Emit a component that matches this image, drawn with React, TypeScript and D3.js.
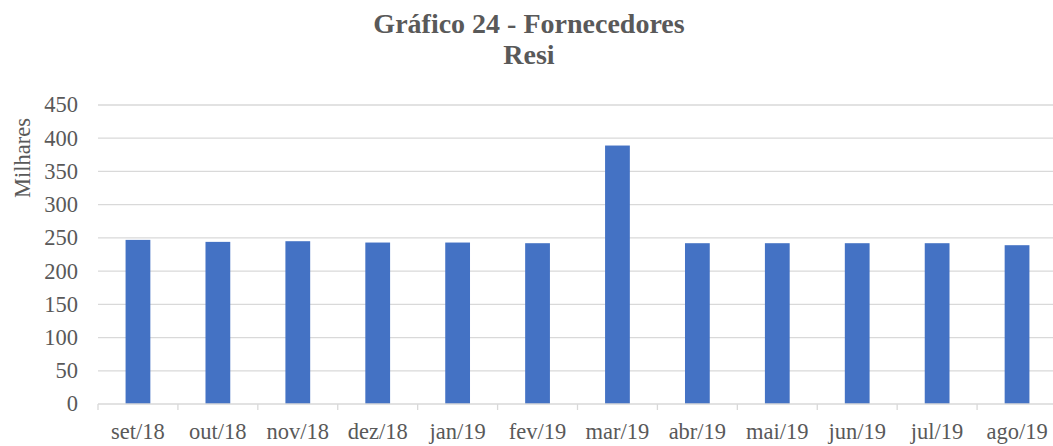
import * as d3 from "d3";
import React, { useRef, useEffect } from "react";

// months on the x axis
const months = [
  "set/18", "out/18", "nov/18", "dez/18", "jan/19", "fev/19",
  "mar/19", "abr/19", "mai/19", "jun/19", "jul/19", "ago/19",
];
// values in thousands (Milhares)
const values = [247, 244, 245, 243, 243, 242, 389, 242, 242, 242, 242, 239];
const yTicks = [0, 50, 100, 150, 200, 250, 300, 350, 400, 450];
const titleLines = ["Gráfico 24 - Fornecedores", "Resi"];

const FONT = "'Liberation Serif', 'Times New Roman', serif";

export default function App() {
  const svgRef = useRef<SVGSVGElement>(null);

  useEffect(() => {
    document.body.style.margin = "0";
    const svg = d3.select(svgRef.current);
    svg.selectAll("*").remove();

    const width = 1053;
    const height = 446;
    const margin = { top: 105, right: -4, bottom: 42, left: 98 };

    const x = d3
      .scaleBand()
      .domain(months)
      .range([margin.left, width - margin.right])
      .paddingInner(0.69)
      .paddingOuter(0.345);

    const y = d3
      .scaleLinear()
      .domain([0, 450])
      .range([height - margin.bottom, margin.top]);

    // title
    svg
      .append("g")
      .selectAll("text")
      .data(titleLines)
      .enter()
      .append("text")
      .attr("x", 529)
      .attr("y", (d, i) => 33 + i * 31)
      .attr("text-anchor", "middle")
      .attr("font-family", FONT)
      .attr("font-weight", "bold")
      .attr("font-size", 28)
      .attr("fill", "#595959")
      .text((d) => d);

    // gridlines
    svg
      .append("g")
      .selectAll("line")
      .data(yTicks.filter((t) => t > 0))
      .enter()
      .append("line")
      .attr("x1", margin.left)
      .attr("x2", width)
      .attr("y1", (d) => y(d))
      .attr("y2", (d) => y(d))
      .attr("stroke", "#d9d9d9")
      .attr("stroke-width", 1.3);

    // y tick labels
    svg
      .append("g")
      .selectAll("text")
      .data(yTicks)
      .enter()
      .append("text")
      .attr("x", 78)
      .attr("y", (d) => y(d))
      .attr("dy", "0.33em")
      .attr("text-anchor", "end")
      .attr("font-family", FONT)
      .attr("font-size", 22.5)
      .attr("fill", "#595959")
      .text((d) => d);

    // y axis title
    svg
      .append("text")
      .attr("transform", "translate(30,158) rotate(-90)")
      .attr("text-anchor", "middle")
      .attr("font-family", FONT)
      .attr("font-size", 22.5)
      .attr("fill", "#595959")
      .text("Milhares");

    // bars
    svg
      .append("g")
      .selectAll("rect")
      .data(values)
      .enter()
      .append("rect")
      .attr("x", (d, i) => x(months[i]))
      .attr("y", (d) => y(d))
      .attr("width", x.bandwidth())
      .attr("height", (d) => y(0) - y(d))
      .attr("fill", "#4472c4");

    // x axis line + ticks
    const base = y(0);
    svg
      .append("line")
      .attr("x1", margin.left)
      .attr("x2", width)
      .attr("y1", base)
      .attr("y2", base)
      .attr("stroke", "#d9d9d9")
      .attr("stroke-width", 1.3);

    const step = x.step();
    const tickXs = d3.range(months.length + 1).map((i) => margin.left + i * step);
    svg
      .append("g")
      .selectAll("line")
      .data(tickXs)
      .enter()
      .append("line")
      .attr("x1", (d) => d)
      .attr("x2", (d) => d)
      .attr("y1", base)
      .attr("y2", base + 6)
      .attr("stroke", "#d9d9d9")
      .attr("stroke-width", 1.3);

    // x labels
    svg
      .append("g")
      .selectAll("text")
      .data(months)
      .enter()
      .append("text")
      .attr("x", (d) => x(d) + x.bandwidth() / 2)
      .attr("y", 439)
      .attr("text-anchor", "middle")
      .attr("font-family", FONT)
      .attr("font-size", 22.5)
      .attr("fill", "#595959")
      .text((d) => d);
  }, []);

  return <svg ref={svgRef} width={1053} height={446} style={{ display: "block" }} />;
}
